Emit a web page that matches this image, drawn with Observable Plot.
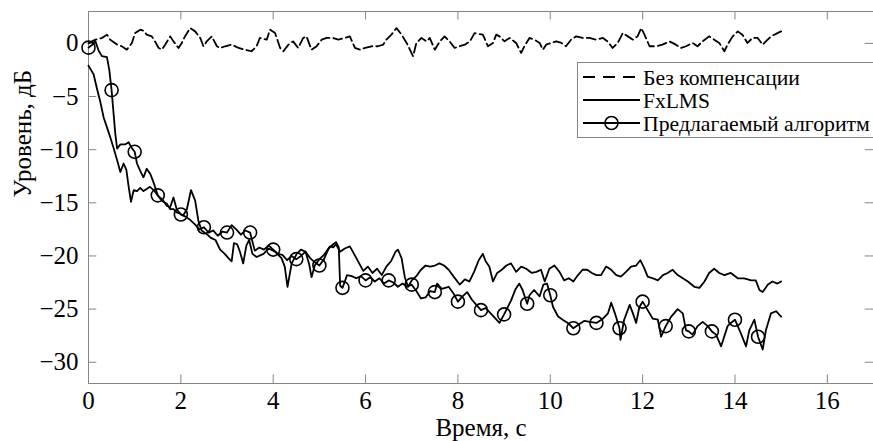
<!DOCTYPE html>
<html><head><meta charset="utf-8">
<script src="https://cdn.jsdelivr.net/npm/d3@7"></script>
<script src="https://cdn.jsdelivr.net/npm/@observablehq/plot@0.6"></script>
<style>html,body{margin:0;padding:0;background:#fff;overflow:hidden}
svg, svg text, svg tspan{font-family:"Liberation Serif","DejaVu Serif",serif !important}</style>
</head><body><div id="chart"></div>
<script>
// ---- data (time s, level dB) ----
const noComp = [[0,0],[0.15,0.35],[0.29,0.5],[0.4,0.82],[0.47,0.35],[0.62,-0.12],[0.72,-0.27],[0.83,-0.59],[0.94,0.04],[1.01,0.97],[1.12,1.29],[1.19,1.2],[1.26,0.82],[1.37,0.66],[1.44,0.19],[1.52,-0.43],[1.59,-0.59],[1.66,-0.12],[1.77,0.66],[1.84,0.19],[1.95,-0.43],[2.02,0.04],[2.09,0.66],[2.2,1.44],[2.31,1.13],[2.42,0.51],[2.49,-0.27],[2.56,0.19],[2.67,0.66],[2.78,-0.27],[2.85,-0.43],[2.96,-0.27],[3.1,-0.12],[3.25,-0.43],[3.39,-0.59],[3.53,-0.74],[3.64,-0.27],[3.71,0.51],[3.86,0.35],[3.93,1.29],[4.04,0.97],[4.15,-0.43],[4.22,-0.74],[4.33,-0.12],[4.43,0.19],[4.54,-0.43],[4.65,0.51],[4.72,0.66],[4.83,-0.59],[4.94,-0.27],[5.05,0.35],[5.16,0.51],[5.3,0.51],[5.41,0.35],[5.55,0.51],[5.66,0.66],[5.77,-0.43],[5.88,-0.59],[5.99,-0.43],[6.13,-0.27],[6.27,-0.27],[6.38,-0.12],[6.45,0.35],[6.56,0.82],[6.67,1.44],[6.78,0.82],[6.89,0.04],[6.96,-0.59],[7.03,-1.21],[7.1,0.04],[7.21,0.51],[7.32,0.19],[7.39,0.51],[7.5,-0.59],[7.61,0.19],[7.71,0.66],[7.82,0.19],[7.93,-0.43],[8.04,-0.27],[8.15,-0.12],[8.26,0.19],[8.36,0.97],[8.54,0.82],[8.65,-0.27],[8.76,0.04],[8.83,0.82],[8.9,0.66],[9.01,0.19],[9.12,0.51],[9.26,0.04],[9.37,-0.9],[9.44,-0.27],[9.55,0.51],[9.66,0.35],[9.77,0.04],[9.84,-0.59],[9.91,-0.12],[10.02,0.04],[10.13,0.19],[10.24,0.04],[10.34,-0.27],[10.45,0.35],[10.56,0.66],[10.7,0.51],[10.85,0.51],[10.99,0.35],[11.14,0.51],[11.24,0.19],[11.35,-0.43],[11.46,0.04],[11.57,0.97],[11.68,0.66],[11.79,0.35],[11.89,0.66],[11.97,1.44],[12.04,0.82],[12.15,-0.27],[12.29,-0.27],[12.43,-0.12],[12.58,0.19],[12.72,-0.12],[12.83,-0.43],[12.94,-0.27],[13.08,0.04],[13.19,-0.27],[13.3,0.19],[13.44,0.66],[13.55,0.35],[13.66,0.04],[13.77,-0.74],[13.84,-0.12],[13.95,0.66],[14.06,1.13],[14.16,0.82],[14.27,0.04],[14.38,0.51],[14.49,0.51],[14.6,-0.12],[14.67,0.19],[14.78,0.66],[14.92,0.97],[15.0,1.13]];

const fxlms = [[0,-2.1],[0.04,-2.4],[0.11,-2.9],[0.18,-4.2],[0.25,-5.4],[0.33,-7.0],[0.4,-7.9],[0.47,-8.8],[0.54,-9.8],[0.62,-11.0],[0.69,-12.1],[0.76,-11.3],[0.82,-11.9],[0.87,-13.5],[0.92,-14.9],[0.98,-13.8],[1.05,-13.9],[1.12,-13.6],[1.19,-13.9],[1.26,-13.7],[1.33,-13.5],[1.41,-13.8],[1.48,-14.2],[1.55,-14.6],[1.62,-14.9],[1.7,-15.1],[1.77,-15.6],[1.84,-15.6],[1.91,-15.9],[1.98,-16.0],[2.05,-16.2],[2.13,-15.6],[2.22,-13.8],[2.31,-14.8],[2.38,-16.7],[2.45,-17.6],[2.55,-17.9],[2.65,-18.3],[2.75,-18.5],[2.85,-19.4],[2.95,-19.8],[3.05,-20.3],[3.1,-20.5],[3.15,-18.8],[3.22,-18.9],[3.28,-19.6],[3.35,-20.7],[3.42,-19.0],[3.48,-18.5],[3.55,-19.8],[3.64,-20.1],[3.79,-19.8],[3.9,-19.3],[4.04,-19.6],[4.18,-20.2],[4.25,-21.0],[4.31,-22.9],[4.4,-20.7],[4.51,-19.8],[4.6,-19.4],[4.7,-19.6],[4.78,-20.8],[4.83,-22.0],[4.9,-20.9],[5.0,-20.3],[5.1,-19.9],[5.23,-19.1],[5.3,-19.2],[5.36,-18.9],[5.45,-19.6],[5.55,-19.3],[5.66,-19.1],[5.75,-19.8],[5.85,-20.6],[5.95,-21.4],[6.05,-21.0],[6.15,-21.6],[6.25,-21.2],[6.35,-21.8],[6.45,-21.0],[6.55,-20.5],[6.65,-19.6],[6.7,-19.4],[6.78,-20.2],[6.85,-22.0],[6.92,-22.9],[7.0,-22.3],[7.1,-21.9],[7.2,-21.3],[7.3,-20.9],[7.4,-21.0],[7.5,-20.9],[7.6,-20.7],[7.7,-20.9],[7.8,-21.3],[7.9,-21.9],[8.04,-22.7],[8.15,-22.2],[8.25,-22.4],[8.35,-21.5],[8.45,-20.4],[8.54,-19.8],[8.6,-20.5],[8.68,-21.0],[8.76,-22.4],[8.85,-21.6],[8.95,-21.3],[9.05,-20.9],[9.15,-20.7],[9.26,-21.5],[9.37,-21.0],[9.48,-21.2],[9.6,-21.6],[9.7,-21.5],[9.8,-21.3],[9.88,-22.4],[9.98,-21.2],[10.09,-20.9],[10.2,-21.5],[10.3,-22.3],[10.4,-22.1],[10.5,-22.4],[10.6,-21.8],[10.7,-21.3],[10.8,-21.3],[10.9,-21.6],[11.0,-21.8],[11.1,-21.8],[11.21,-21.0],[11.32,-21.3],[11.43,-21.8],[11.53,-21.95],[11.64,-21.5],[11.75,-21.0],[11.86,-20.9],[11.95,-20.4],[12.04,-21.2],[12.11,-21.95],[12.22,-22.1],[12.33,-22.3],[12.44,-21.8],[12.54,-21.6],[12.65,-21.3],[12.76,-21.8],[12.87,-22.1],[12.98,-22.4],[13.12,-22.9],[13.23,-23.0],[13.34,-22.4],[13.44,-21.6],[13.55,-21.2],[13.66,-21.6],[13.77,-21.8],[13.91,-21.6],[14.06,-22.1],[14.2,-22.1],[14.35,-22.3],[14.45,-22.3],[14.53,-23.2],[14.6,-23.4],[14.71,-22.7],[14.81,-22.4],[14.92,-22.6],[15.0,-22.4]];

const proposed = [[0,-0.4],[0.09,-0.1],[0.15,0.2],[0.22,-0.7],[0.29,-1.2],[0.4,-1.3],[0.45,-2.5],[0.5,-4.4],[0.58,-8.5],[0.62,-9.9],[0.69,-9.5],[0.8,-9.5],[0.87,-9.3],[0.93,-9.8],[1.0,-10.2],[1.05,-11.3],[1.12,-12.0],[1.19,-12.6],[1.26,-11.8],[1.34,-12.3],[1.41,-13.1],[1.5,-14.3],[1.62,-14.8],[1.7,-15.3],[1.77,-15.4],[1.84,-14.5],[1.91,-15.6],[2.0,-16.1],[2.1,-16.3],[2.2,-16.6],[2.3,-17.0],[2.4,-17.5],[2.5,-17.3],[2.6,-17.8],[2.7,-17.6],[2.8,-18.1],[2.9,-17.7],[3.0,-17.8],[3.1,-17.1],[3.2,-17.5],[3.3,-18.0],[3.4,-17.6],[3.5,-17.8],[3.6,-19.5],[3.7,-19.2],[3.8,-19.4],[3.9,-19.0],[4.0,-19.4],[4.1,-19.8],[4.2,-19.9],[4.3,-20.4],[4.4,-20.0],[4.5,-20.3],[4.6,-20.0],[4.7,-19.6],[4.8,-20.2],[4.9,-20.6],[5.0,-20.9],[5.1,-20.3],[5.2,-19.3],[5.3,-18.9],[5.36,-18.7],[5.42,-19.2],[5.45,-22.8],[5.5,-23.0],[5.6,-21.8],[5.7,-21.9],[5.8,-22.1],[5.9,-21.9],[6.0,-22.3],[6.1,-22.0],[6.2,-22.4],[6.3,-22.1],[6.4,-22.6],[6.5,-22.3],[6.6,-22.5],[6.7,-22.9],[6.8,-22.6],[6.9,-22.9],[7.0,-22.7],[7.1,-23.3],[7.2,-24.0],[7.3,-23.9],[7.4,-23.3],[7.5,-23.4],[7.55,-22.6],[7.65,-23.1],[7.8,-22.9],[7.9,-23.5],[8.0,-24.3],[8.1,-23.8],[8.2,-23.4],[8.3,-24.1],[8.4,-24.6],[8.5,-25.1],[8.6,-24.9],[8.75,-25.6],[8.9,-26.3],[9.0,-25.5],[9.15,-24.2],[9.25,-23.1],[9.33,-22.6],[9.4,-23.2],[9.5,-24.5],[9.55,-23.7],[9.65,-23.2],[9.77,-23.8],[9.85,-22.7],[9.93,-22.6],[10.0,-23.7],[10.06,-24.8],[10.17,-25.7],[10.27,-26.0],[10.38,-26.3],[10.5,-26.8],[10.6,-26.5],[10.74,-26.1],[10.85,-26.2],[11.0,-26.3],[11.14,-25.9],[11.25,-25.4],[11.32,-24.4],[11.4,-25.4],[11.5,-26.8],[11.52,-27.9],[11.6,-26.0],[11.72,-24.6],[11.79,-25.4],[11.86,-26.3],[11.93,-24.8],[12.0,-24.3],[12.11,-25.1],[12.22,-25.9],[12.33,-26.0],[12.4,-27.6],[12.5,-26.6],[12.62,-25.7],[12.76,-25.0],[12.87,-25.4],[12.94,-27.0],[13.0,-27.1],[13.08,-27.4],[13.19,-26.6],[13.3,-26.2],[13.41,-26.6],[13.5,-27.1],[13.59,-27.4],[13.7,-28.5],[13.84,-26.6],[13.91,-26.3],[14.0,-26.0],[14.13,-27.3],[14.24,-28.5],[14.31,-27.0],[14.42,-26.0],[14.5,-27.6],[14.6,-28.8],[14.67,-27.0],[14.78,-25.4],[14.89,-25.2],[15.0,-25.7]];

const markerTimes = [0,0.5,1,1.5,2,2.5,3,3.5,4,4.5,5,5.5,6,6.5,7,7.5,8,8.5,9,9.5,10,10.5,11,11.5,12,12.5,13,13.5,14,14.5];
const xTicks = [0,2,4,6,8,10,12,14,16];
const yTicks = [0,-5,-10,-15,-20,-25,-30];
const legendLabels = ["Без компенсации", "FxLMS", "Предлагаемый алгоритм"];
const xLabel = "Время, с";
const yLabel = "Уровень, дБ";

// ---- build ----
const toObj = arr => arr.map(([t, v]) => ({t, v}));
const prop = toObj(proposed);
const markers = prop.filter(d => markerTimes.some(m => Math.abs(m - d.t) < 1e-9));
const axisColor = "#858585";
const font = "Liberation Serif, DejaVu Serif, serif";

const chart = Plot.plot({
  width: 873, height: 441,
  marginLeft: 88, marginRight: 0, marginTop: 11, marginBottom: 58,
  style: {fontSize: "25px", background: "#fff", color: "#000"},
  x: {domain: [0, 17]},
  y: {domain: [-32, 3]},
  marks: [
    Plot.ruleY([-32, 3], {stroke: axisColor, strokeWidth: 1}),
    Plot.ruleX([0], {stroke: axisColor, strokeWidth: 1}),
    Plot.ruleX(xTicks, {x: d => d, y1: -32, y2: -31.2, stroke: axisColor}),
    Plot.ruleX(xTicks, {x: d => d, y1: 3, y2: 2.2, stroke: axisColor}),
    Plot.ruleY(yTicks, {y: d => d, x1: 0, x2: 0.18, stroke: axisColor}),
    Plot.ruleY(yTicks, {y: d => d, x1: 17, x2: 16.82, stroke: axisColor}),
    Plot.line(toObj(noComp), {x: "t", y: "v", stroke: "#000", strokeWidth: 1.8, strokeDasharray: "9,4"}),
    Plot.line(toObj(fxlms), {x: "t", y: "v", stroke: "#000", strokeWidth: 1.8}),
    Plot.line(prop, {x: "t", y: "v", stroke: "#000", strokeWidth: 1.8}),
    Plot.dot(markers, {x: "t", y: "v", r: 6.5, stroke: "#000", strokeWidth: 1.6, fill: "none"}),
    Plot.axisX({ticks: xTicks, tickSize: 0, tickPadding: 8, label: null, fontSize: 25}),
    Plot.axisY({ticks: yTicks, tickSize: 0, tickPadding: 10, label: null, fontSize: 25}),
    Plot.text([xLabel], {frameAnchor: "bottom", dy: 44, lineAnchor: "middle", fontSize: 25}),
    Plot.text([yLabel], {frameAnchor: "left", dx: -66, rotate: -90, fontSize: 25})
  ]
});

svg_setup();
function svg_setup() {
  const svg = d3.select(chart);
  svg.style("font-family", font);
  svg.selectAll("text").style("font-family", font);
  const lg = svg.append("g").attr("text-anchor", "start");
  lg.append("rect").attr("x", 577.5).attr("y", 62.5).attr("width", 300).attr("height", 75)
    .attr("fill", "#fff").attr("stroke", axisColor);
  const rowY = [77, 100, 123];
  legendLabels.forEach((lab, i) => {
    const y = rowY[i];
    lg.append("line").attr("x1", 583).attr("x2", 640).attr("y1", y).attr("y2", y)
      .attr("stroke", "#000").attr("stroke-width", 1.8)
      .attr("stroke-dasharray", i === 0 ? "12,8" : null);
    if (i === 2) lg.append("circle").attr("cx", 611.5).attr("cy", y).attr("r", 6.5)
      .attr("fill", "none").attr("stroke", "#000").attr("stroke-width", 1.6);
    lg.append("text").attr("class", "legend-label")
      .attr("transform", `translate(643,${y})`)
      .attr("dy", "0.35em").attr("text-anchor", "start")
      .style("font-size", "21.5px").style("font-family", font)
      .text(lab);
  });
}

document.getElementById("chart").appendChild(chart);

// stretch legend labels horizontally to the widths seen in the reference
const legendWidths = [157, 67, 227];
d3.select(chart).selectAll("text.legend-label").each(function(_, i) {
  const w = this.getComputedTextLength();
  if (w > 0) {
    const k = legendWidths[i] / w;
    const y = [77, 100, 123][i];
    this.setAttribute("transform", `translate(643,${y}) scale(${k},1)`);
  }
});
</script>
</body></html>
